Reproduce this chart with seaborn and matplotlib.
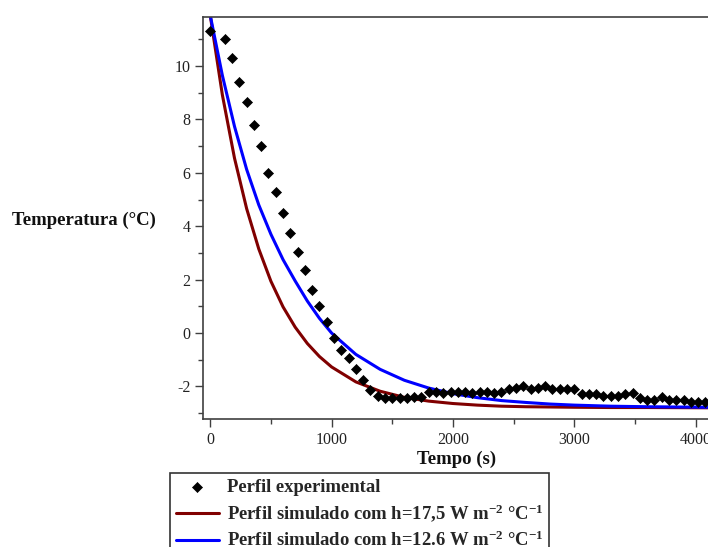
import numpy as np
import pandas as pd
import matplotlib
matplotlib.use("Agg")
import matplotlib.pyplot as plt
from matplotlib.ticker import MultipleLocator
import seaborn as sns

# Experimental profile (time in s, temperature in degC)
exp_time = [0, 120, 180, 240, 300, 360, 420, 480, 540, 600, 660, 720, 780, 840,
            900, 960, 1020, 1080, 1140, 1200, 1260, 1320, 1380, 1440, 1500, 1560,
            1620, 1680, 1740, 1800, 1860, 1920, 1980, 2040, 2100, 2160, 2220, 2280,
            2340, 2400, 2460, 2520, 2580, 2640, 2700, 2760, 2820, 2880, 2940, 3000,
            3060, 3120, 3180, 3240, 3300, 3360, 3420, 3480, 3540, 3600, 3660, 3720,
            3780, 3840, 3900, 3960, 4020, 4080]
exp_temp = [11.3, 11.0, 10.3, 9.4, 8.65, 7.8, 7.0, 6.0, 5.3, 4.5, 3.75, 3.05, 2.35, 1.6,
            1.0, 0.4, -0.2, -0.65, -0.95, -1.35, -1.75, -2.15, -2.35, -2.45, -2.45, -2.45,
            -2.45, -2.4, -2.4, -2.2, -2.2, -2.25, -2.2, -2.2, -2.2, -2.25, -2.2, -2.2,
            -2.25, -2.2, -2.1, -2.05, -2.0, -2.1, -2.05, -2.0, -2.1, -2.1, -2.1, -2.1,
            -2.3, -2.3, -2.3, -2.35, -2.35, -2.35, -2.3, -2.25, -2.45, -2.5, -2.5, -2.4,
            -2.5, -2.5, -2.5, -2.6, -2.6, -2.6]

# Simulated profiles
sim_time = [0, 100, 200, 300, 400, 500, 600, 700, 800, 900, 1000, 1200, 1400, 1600,
            1800, 2000, 2200, 2400, 2600, 2800, 3000, 3300, 3600, 4100]
sim_h175 = [11.9, 8.92, 6.55, 4.66, 3.15, 1.94, 0.98, 0.22, -0.39, -0.88, -1.27, -1.83,
            -2.18, -2.41, -2.55, -2.64, -2.70, -2.74, -2.76, -2.77, -2.78, -2.79, -2.79, -2.80]
sim_h126 = [11.9, 9.65, 7.74, 6.13, 4.8, 3.7, 2.75, 1.95, 1.2, 0.55, 0.0, -0.8,
            -1.36, -1.77, -2.06, -2.27, -2.42, -2.53, -2.60, -2.66, -2.70, -2.74, -2.76, -2.78]

label_exp = "Perfil experimental"
label_175 = r"Perfil simulado com h=17,5 W m$^{-2}$ °C$^{-1}$"
label_126 = r"Perfil simulado com h=12.6 W m$^{-2}$ °C$^{-1}$"

sns.set_style("ticks")
plt.rcParams["font.family"] = ["Liberation Serif", "DejaVu Serif"]
plt.rcParams["axes.unicode_minus"] = False
plt.rcParams["mathtext.fontset"] = "custom"
plt.rcParams["mathtext.rm"] = "Liberation Serif:bold"
plt.rcParams["mathtext.it"] = "Liberation Serif:bold"
plt.rcParams["mathtext.bf"] = "Liberation Serif:bold"
plt.rcParams["mathtext.default"] = "rm"

exp_df = pd.DataFrame({"t": exp_time, "T": exp_temp})
sim_df = pd.DataFrame({"t": sim_time, "h175": sim_h175, "h126": sim_h126})

fig = plt.figure(figsize=(7.08, 5.47), dpi=100)
ax = fig.add_axes([0.287, 0.234, 0.717, 0.735])

sns.scatterplot(data=exp_df, x="t", y="T", marker="D", s=26, color="black",
                edgecolor="black", linewidth=0.5, ax=ax, label=label_exp, zorder=3)
sns.lineplot(data=sim_df, x="t", y="h175", color="#800000", linewidth=2.2, ax=ax,
             label=label_175, zorder=2)
sns.lineplot(data=sim_df, x="t", y="h126", color="#0000ff", linewidth=2.2, ax=ax,
             label=label_126, zorder=2)

ax.set_xlim(-58, 4125)
ax.set_ylim(-3.22, 11.84)
ax.xaxis.set_major_locator(MultipleLocator(1000))
ax.xaxis.set_minor_locator(MultipleLocator(500))
ax.yaxis.set_major_locator(MultipleLocator(2))
ax.yaxis.set_minor_locator(MultipleLocator(1))
ax.tick_params(which="major", length=6, width=1, color="#404040", labelsize=11.5,
               labelcolor="#222222", pad=3)
ax.tick_params(which="minor", length=3.5, width=1, color="#404040")

for side in ["left", "bottom", "top"]:
    ax.spines[side].set_color("#404040")
    ax.spines[side].set_linewidth(1.2)
ax.spines["right"].set_visible(False)

ax.set_xlabel("")
ax.set_ylabel("")
fig.text(84 / 708, 1 - 220 / 547, "Temperatura (°C)", fontsize=13.5, fontweight="bold",
         ha="center", va="center", color="#111111")
fig.text(457 / 708, 1 - 459 / 547, "Tempo (s)", fontsize=13.5, fontweight="bold",
         ha="center", va="center", color="#111111")

handles, labels = ax.get_legend_handles_labels()
ax.legend_.remove()
leg = fig.legend(handles, labels, loc="upper left", bbox_to_anchor=(170 / 708, 1 - 473 / 547),
                 frameon=True, fancybox=False, edgecolor="#333333", framealpha=1,
                 prop={"family": "Liberation Serif", "weight": "bold", "size": 13.4},
                 handlelength=2.35, handletextpad=0.4, borderpad=0.3, labelspacing=0.36,
                 borderaxespad=0)
leg.get_frame().set_linewidth(1.2)

fig.savefig("out.png", dpi=100)
